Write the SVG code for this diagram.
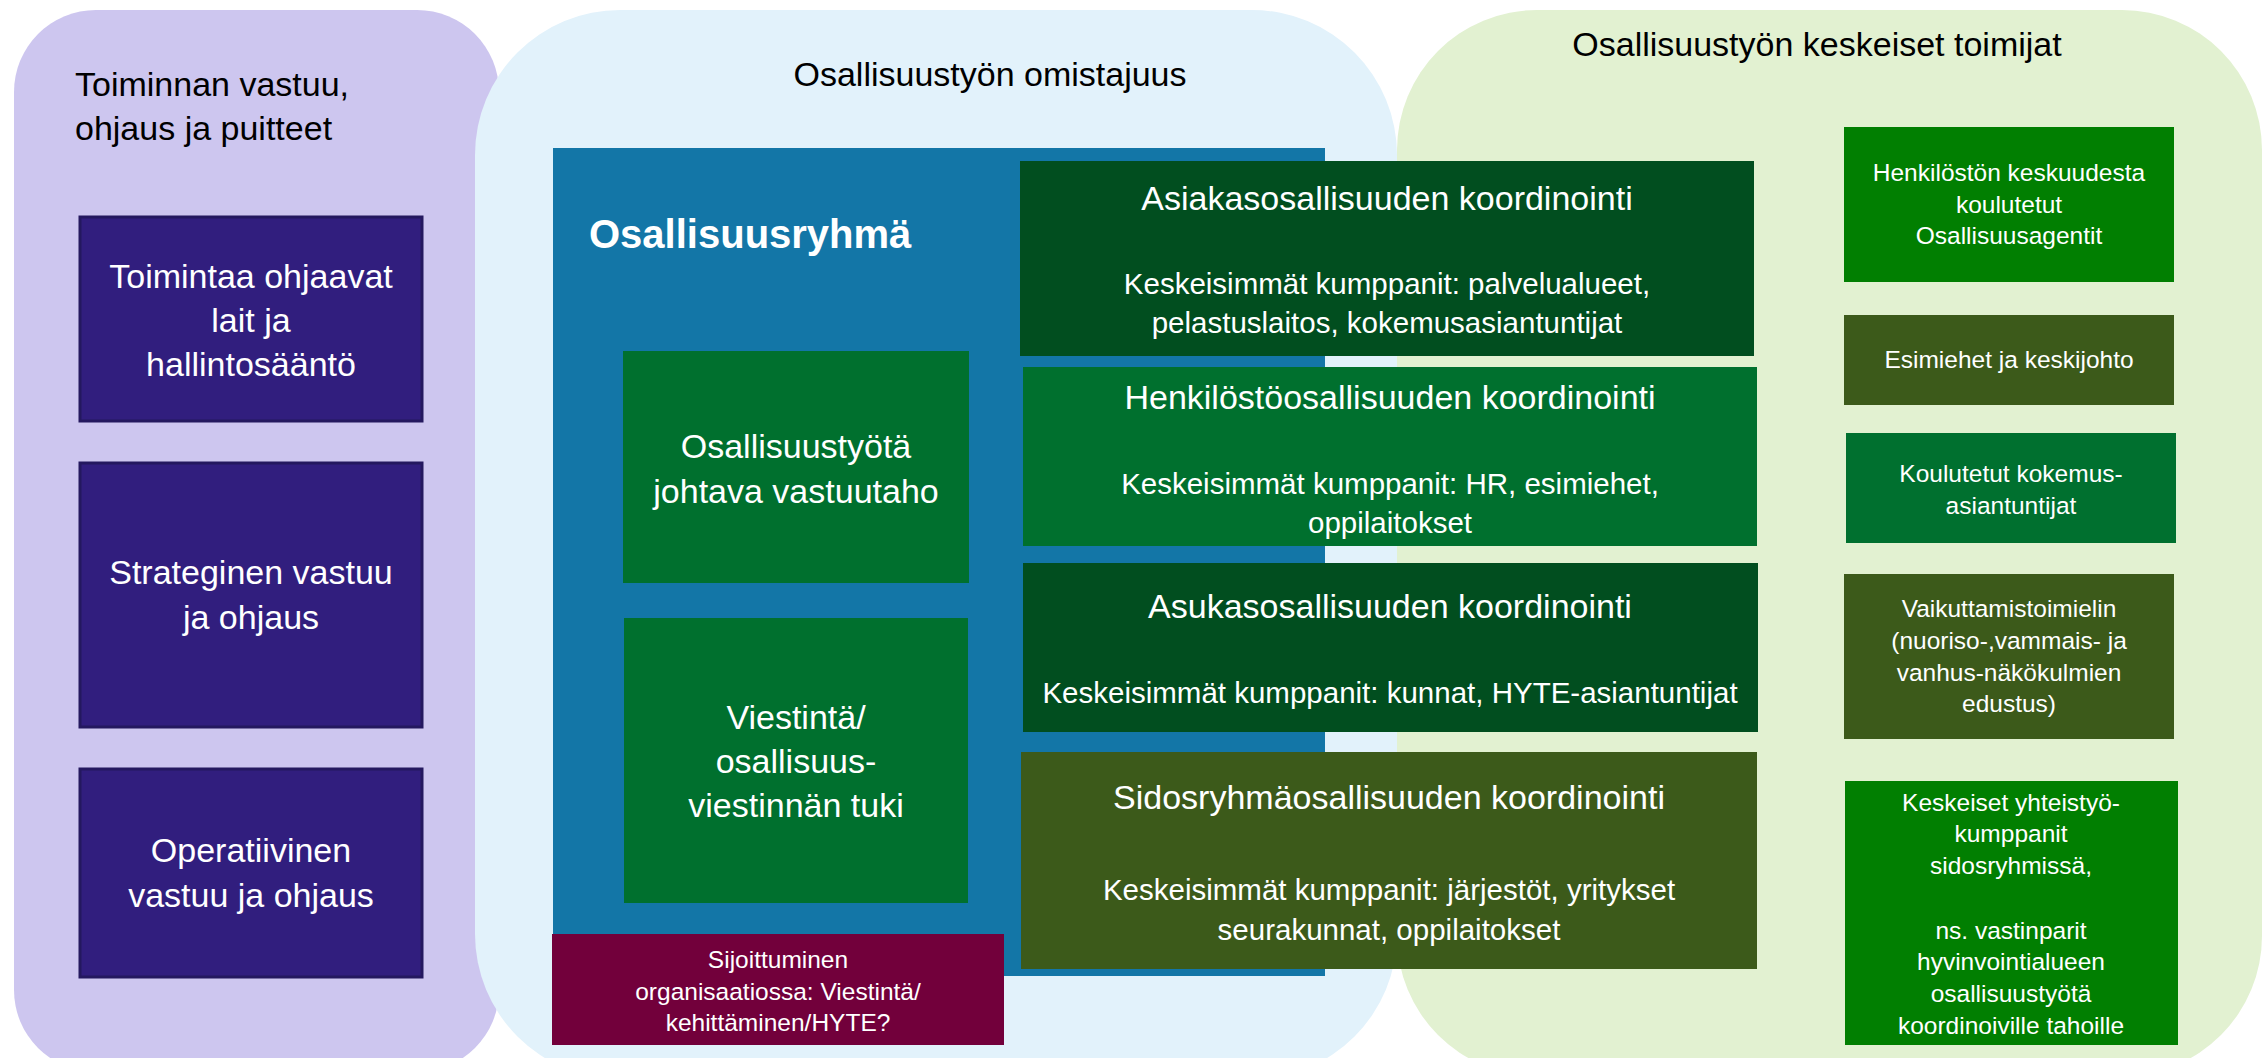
<svg xmlns="http://www.w3.org/2000/svg" width="2265" height="1058" viewBox="0 0 2265 1058">
<style>
text{font-family:"Liberation Sans",Arial,sans-serif;}
.t{font-size:34px;fill:#000;}
.w34{font-size:34px;fill:#fff;text-anchor:middle;}
.w29{font-size:29.5px;fill:#fff;text-anchor:middle;}
.w24{font-size:24.5px;fill:#fff;text-anchor:middle;}
.purple{fill:#311E7E;stroke:#24185F;stroke-width:3;}
.mid{fill:#00702E;}
.dark{fill:#014E1F;}
.olive{fill:#3C5A1A;}
.bright{fill:#017F01;}
</style>
<g id="panel-vastuu">
<rect x="14" y="10" width="485" height="1062" rx="82" ry="82" fill="#CDC6EF"/>
<text class="t" x="75" y="96">Toiminnan vastuu,</text>
<text class="t" x="75" y="140">ohjaus ja puitteet</text>
</g>
<g id="panel-omistajuus">
<rect x="475" y="10" width="922" height="1069" rx="145" ry="145" fill="#E2F2FB"/>
<text class="t" x="990" y="86" text-anchor="middle">Osallisuustyön omistajuus</text>
</g>
<g id="panel-toimijat">
<rect x="1397" y="10" width="865" height="1066" rx="140" ry="140" fill="#E2F1D1"/>
<text class="t" x="1817" y="56" text-anchor="middle">Osallisuustyön keskeiset toimijat</text>
</g>
<g id="node-lait">
<rect class="purple" x="80" y="217" width="342" height="204"/>
<text class="w34" x="251" y="288">Toimintaa ohjaavat</text>
<text class="w34" x="251" y="332">lait ja</text>
<text class="w34" x="251" y="376">hallintosääntö</text>
</g>
<g id="node-strateginen">
<rect class="purple" x="80" y="463" width="342" height="264"/>
<text class="w34" x="251" y="584">Strateginen vastuu</text>
<text class="w34" x="251" y="629">ja ohjaus</text>
</g>
<g id="node-operatiivinen">
<rect class="purple" x="80" y="769" width="342" height="208"/>
<text class="w34" x="251" y="862">Operatiivinen</text>
<text class="w34" x="251" y="907">vastuu ja ohjaus</text>
</g>
<g id="node-osallisuusryhma">
<rect x="553" y="148" width="772" height="828" fill="#1376A7"/>
<text x="589" y="248" font-size="40" font-weight="bold" fill="#fff">Osallisuusryhmä</text>
</g>
<g id="node-vastuutaho">
<rect class="mid" x="623" y="351" width="346" height="232"/>
<text class="w34" x="796" y="458">Osallisuustyötä</text>
<text class="w34" x="796" y="503">johtava vastuutaho</text>
</g>
<g id="node-viestinta">
<rect class="mid" x="624" y="618" width="344" height="285"/>
<text class="w34" x="796" y="729">Viestintä/</text>
<text class="w34" x="796" y="773">osallisuus-</text>
<text class="w34" x="796" y="817">viestinnän tuki</text>
</g>
<g id="node-sijoittuminen">
<rect x="552" y="934" width="452" height="111" fill="#72003B"/>
<text class="w24" x="778" y="968">Sijoittuminen</text>
<text class="w24" x="778" y="1000">organisaatiossa: Viestintä/</text>
<text class="w24" x="778" y="1031">kehittäminen/HYTE?</text>
</g>
<g id="node-asiakas">
<rect class="dark" x="1020" y="161" width="734" height="195"/>
<text class="w34" x="1387" y="210">Asiakasosallisuuden koordinointi</text>
<text class="w29" x="1387" y="294">Keskeisimmät kumppanit: palvelualueet,</text>
<text class="w29" x="1387" y="333">pelastuslaitos, kokemusasiantuntijat</text>
</g>
<g id="node-henkilosto">
<rect class="mid" x="1023" y="367" width="734" height="179"/>
<text class="w34" x="1390" y="409">Henkilöstöosallisuuden koordinointi</text>
<text class="w29" x="1390" y="494">Keskeisimmät kumppanit: HR, esimiehet,</text>
<text class="w29" x="1390" y="533">oppilaitokset</text>
</g>
<g id="node-asukas">
<rect class="dark" x="1023" y="563" width="735" height="169"/>
<text class="w34" x="1390" y="618">Asukasosallisuuden koordinointi</text>
<text class="w29" x="1390" y="703">Keskeisimmät kumppanit: kunnat, HYTE-asiantuntijat</text>
</g>
<g id="node-sidosryhma">
<rect class="olive" x="1021" y="752" width="736" height="217"/>
<text class="w34" x="1389" y="809">Sidosryhmäosallisuuden koordinointi</text>
<text class="w29" x="1389" y="900">Keskeisimmät kumppanit: järjestöt, yritykset</text>
<text class="w29" x="1389" y="940">seurakunnat, oppilaitokset</text>
</g>
<g id="node-agentit">
<rect class="bright" x="1844" y="127" width="330" height="155"/>
<text class="w24" x="2009" y="181">Henkilöstön keskuudesta</text>
<text class="w24" x="2009" y="213">koulutetut</text>
<text class="w24" x="2009" y="244">Osallisuusagentit</text>
</g>
<g id="node-esimiehet">
<rect class="olive" x="1844" y="315" width="330" height="90"/>
<text class="w24" x="2009" y="368">Esimiehet ja keskijohto</text>
</g>
<g id="node-kokemus">
<rect x="1846" y="433" width="330" height="110" fill="#00702F"/>
<text class="w24" x="2011" y="482">Koulutetut kokemus-</text>
<text class="w24" x="2011" y="514">asiantuntijat</text>
</g>
<g id="node-vaikuttamis">
<rect class="olive" x="1844" y="574" width="330" height="165"/>
<text class="w24" x="2009" y="617">Vaikuttamistoimielin</text>
<text class="w24" x="2009" y="649">(nuoriso-,vammais- ja</text>
<text class="w24" x="2009" y="681">vanhus-näkökulmien</text>
<text class="w24" x="2009" y="712">edustus)</text>
</g>
<g id="node-yhteistyo">
<rect class="bright" x="1845" y="781" width="333" height="264"/>
<text class="w24" x="2011" y="811">Keskeiset yhteistyö-</text>
<text class="w24" x="2011" y="842">kumppanit</text>
<text class="w24" x="2011" y="874">sidosryhmissä,</text>
<text class="w24" x="2011" y="939">ns. vastinparit</text>
<text class="w24" x="2011" y="970">hyvinvointialueen</text>
<text class="w24" x="2011" y="1002">osallisuustyötä</text>
<text class="w24" x="2011" y="1034">koordinoiville tahoille</text>
</g>
<g id="connectors"/>
</svg>
